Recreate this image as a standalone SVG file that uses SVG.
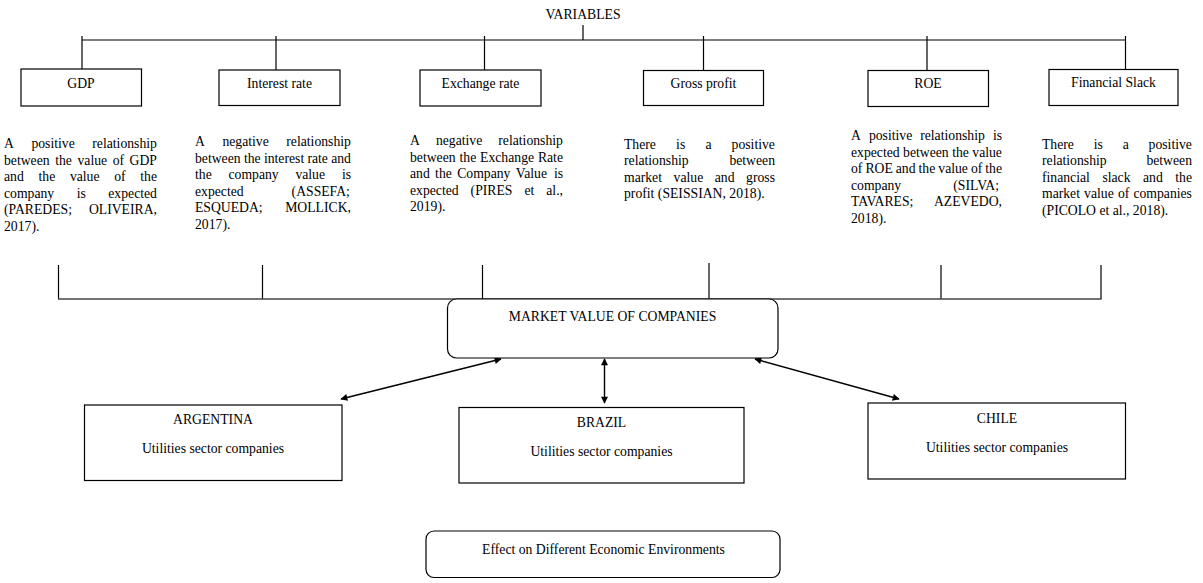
<svg xmlns="http://www.w3.org/2000/svg" width="1203" height="583" viewBox="0 0 1203 583">
<style>
text{font-family:"Liberation Serif","Times New Roman",serif;font-size:13.7px;fill:#000}
.c{text-anchor:middle}
.box{fill:#fff;stroke:#000;stroke-width:1.2}
.ln{fill:none;stroke:#000;stroke-width:1.2}
.arr{fill:none;stroke:#000;stroke-width:1.4;marker-start:url(#ah);marker-end:url(#ah)}
</style>
<defs>
<marker id="ah" viewBox="0 0 10 10" refX="9" refY="5" markerWidth="10" markerHeight="7" markerUnits="userSpaceOnUse" orient="auto-start-reverse">
<path d="M0,0 L10,5 L0,10 z" fill="#000"/>
</marker>
</defs>

<g id="title">
<text class="c" x="583" y="19">VARIABLES</text>
</g>

<g id="connectors">
<line class="ln" x1="583" y1="25" x2="583" y2="40"/>
<line class="ln" x1="82" y1="40" x2="1126" y2="40"/>
<line class="ln" x1="82" y1="36" x2="82" y2="69"/>
<line class="ln" x1="276" y1="36" x2="276" y2="70"/>
<line class="ln" x1="484.5" y1="36" x2="484.5" y2="70"/>
<line class="ln" x1="703.5" y1="36" x2="703.5" y2="70"/>
<line class="ln" x1="927" y1="36" x2="927" y2="70"/>
<line class="ln" x1="1125.5" y1="36" x2="1125.5" y2="69"/>
<line class="ln" x1="58.5" y1="265" x2="58.5" y2="299"/>
<line class="ln" x1="262.5" y1="265" x2="262.5" y2="299"/>
<line class="ln" x1="482.5" y1="265" x2="482.5" y2="299"/>
<line class="ln" x1="709" y1="263" x2="709" y2="299"/>
<line class="ln" x1="941" y1="265" x2="941" y2="299"/>
<line class="ln" x1="1101" y1="265" x2="1101" y2="299"/>
<line x1="58" y1="299" x2="1101.6" y2="299" stroke="#444" stroke-width="1.6"/>
<line class="arr" x1="501" y1="359" x2="341" y2="399"/>
<line class="arr" x1="604.5" y1="359" x2="604.5" y2="403"/>
<line class="arr" x1="755" y1="359" x2="899" y2="399"/>
</g>

<g id="gdp">
<rect class="box" x="21" y="69" width="120.5" height="37"/>
<text class="c" x="81" y="88">GDP</text>
</g>
<g id="interest-rate">
<rect class="box" x="219" y="70" width="121" height="35.5"/>
<text class="c" x="279.5" y="88">Interest rate</text>
</g>
<g id="exchange-rate">
<rect class="box" x="420" y="70" width="121" height="36"/>
<text class="c" x="480.5" y="88">Exchange rate</text>
</g>
<g id="gross-profit">
<rect class="box" x="643.5" y="70.5" width="120" height="35"/>
<text class="c" x="703.5" y="88">Gross profit</text>
</g>
<g id="roe">
<rect class="box" x="868" y="70.5" width="120.5" height="36"/>
<text class="c" x="928" y="88">ROE</text>
</g>
<g id="financial-slack">
<rect class="box" x="1049" y="69.5" width="129" height="36"/>
<text class="c" x="1113.5" y="87">Financial Slack</text>
</g>

<g id="gdp-text">
<text>
<tspan x="4" y="148">A</tspan><tspan x="31.4" y="148">positive</tspan><tspan x="92.3" y="148">relationship</tspan>
<tspan x="4" y="164.5">between</tspan><tspan x="55.2" y="164.5">the</tspan><tspan x="77.5" y="164.5">value</tspan><tspan x="112.7" y="164.5">of</tspan><tspan x="129.6" y="164.5">GDP</tspan>
<tspan x="4" y="181">and</tspan><tspan x="38.5" y="181">the</tspan><tspan x="69.9" y="181">value</tspan><tspan x="114.2" y="181">of</tspan><tspan x="140.3" y="181">the</tspan>
<tspan x="4" y="197.5">company</tspan><tspan x="76.7" y="197.5">is</tspan><tspan x="108.3" y="197.5">expected</tspan>
<tspan x="4" y="214">(PAREDES;</tspan><tspan x="88.9" y="214">OLIVEIRA,</tspan>
<tspan x="4" y="230.5">2017).</tspan>
</text>
</g>

<g id="interest-text">
<text>
<tspan x="195" y="146">A</tspan><tspan x="222.4" y="146">negative</tspan><tspan x="286.3" y="146">relationship</tspan>
<tspan x="195" y="162.5">between</tspan><tspan x="243.9" y="162.5">the</tspan><tspan x="263.9" y="162.5">interest</tspan><tspan x="307.4" y="162.5">rate</tspan><tspan x="331.2" y="162.5">and</tspan>
<tspan x="195" y="179">the</tspan><tspan x="228.5" y="179">company</tspan><tspan x="295.4" y="179">value</tspan><tspan x="341.9" y="179">is</tspan>
<tspan x="195" y="195.5">expected</tspan><tspan x="291.6" y="195.5">(ASSEFA;</tspan>
<tspan x="195" y="212">ESQUEDA;</tspan><tspan x="285.2" y="212">MOLLICK,</tspan>
<tspan x="195" y="228.5">2017).</tspan>
</text>
</g>

<g id="exchange-text">
<text>
<tspan x="410" y="145">A</tspan><tspan x="435.9" y="145">negative</tspan><tspan x="498.3" y="145">relationship</tspan>
<tspan x="410" y="161.5">between</tspan><tspan x="459.5" y="161.5">the</tspan><tspan x="480.1" y="161.5">Exchange</tspan><tspan x="537.9" y="161.5">Rate</tspan>
<tspan x="410" y="178">and</tspan><tspan x="435.1" y="178">the</tspan><tspan x="457.2" y="178">Company</tspan><tspan x="515.8" y="178">Value</tspan><tspan x="553.9" y="178">is</tspan>
<tspan x="410" y="194.5">expected</tspan><tspan x="470.6" y="194.5">(PIRES</tspan><tspan x="524.4" y="194.5">et</tspan><tspan x="546.3" y="194.5">al.,</tspan>
<tspan x="410" y="211">2019).</tspan>
</text>
</g>

<g id="gross-text">
<text>
<tspan x="624" y="148.5">There</tspan><tspan x="676.1" y="148.5">is</tspan><tspan x="705.4" y="148.5">a</tspan><tspan x="731.6" y="148.5">positive</tspan>
<tspan x="624" y="165">relationship</tspan><tspan x="729.4" y="165">between</tspan>
<tspan x="624" y="181.5">market</tspan><tspan x="673.6" y="181.5">value</tspan><tspan x="714.8" y="181.5">and</tspan><tspan x="746.1" y="181.5">gross</tspan>
<tspan x="624" y="198">profit (SEISSIAN, 2018).</tspan>
</text>
</g>

<g id="roe-text">
<text>
<tspan x="851" y="140">A</tspan><tspan x="868.9" y="140">positive</tspan><tspan x="920.2" y="140">relationship</tspan><tspan x="992.9" y="140">is</tspan>
<tspan x="851" y="156.5">expected</tspan><tspan x="903.1" y="156.5">between</tspan><tspan x="952.2" y="156.5">the</tspan><tspan x="972.3" y="156.5">value</tspan>
<tspan x="851" y="173">of</tspan><tspan x="865.4" y="173">ROE</tspan><tspan x="895.8" y="173">and</tspan><tspan x="918.5" y="173">the</tspan><tspan x="938.3" y="173">value</tspan><tspan x="970.9" y="173">of</tspan><tspan x="985.3" y="173">the</tspan>
<tspan x="851" y="189.5">company</tspan><tspan x="953.3" y="189.5">(SILVA;</tspan>
<tspan x="851" y="206">TAVARES;</tspan><tspan x="933.9" y="206">AZEVEDO,</tspan>
<tspan x="851" y="222.5">2018).</tspan>
</text>
</g>

<g id="financial-text">
<text>
<tspan x="1042" y="148.5">There</tspan><tspan x="1093.8" y="148.5">is</tspan><tspan x="1122.7" y="148.5">a</tspan><tspan x="1148.6" y="148.5">positive</tspan>
<tspan x="1042" y="165">relationship</tspan><tspan x="1146.4" y="165">between</tspan>
<tspan x="1042" y="181.5">financial</tspan><tspan x="1102.4" y="181.5">slack</tspan><tspan x="1143" y="181.5">and</tspan><tspan x="1175.3" y="181.5">the</tspan>
<tspan x="1042" y="198">market</tspan><tspan x="1084.1" y="198">value</tspan><tspan x="1117.9" y="198">of</tspan><tspan x="1133.4" y="198">companies</tspan>
<tspan x="1042" y="214.5">(PICOLO et al., 2018).</tspan>
</text>
</g>

<g id="market-value">
<rect class="box" x="447.5" y="299" width="330.5" height="59" rx="9"/>
<text class="c" x="612.5" y="321">MARKET VALUE OF COMPANIES</text>
</g>

<g id="argentina">
<rect class="box" x="84.5" y="405" width="257.5" height="75.5"/>
<text class="c" x="213" y="424">ARGENTINA</text>
<text class="c" x="213" y="453">Utilities sector companies</text>
</g>
<g id="brazil">
<rect class="box" x="459" y="407.5" width="285" height="75.5"/>
<text class="c" x="601.5" y="427">BRAZIL</text>
<text class="c" x="601.5" y="456">Utilities sector companies</text>
</g>
<g id="chile">
<rect class="box" x="868" y="403" width="257.5" height="76"/>
<text class="c" x="997" y="423">CHILE</text>
<text class="c" x="997" y="452">Utilities sector companies</text>
</g>

<g id="effect">
<rect class="box" x="426" y="531" width="354" height="46.5" rx="8"/>
<text class="c" x="603.5" y="554">Effect on Different Economic Environments</text>
</g>
</svg>
